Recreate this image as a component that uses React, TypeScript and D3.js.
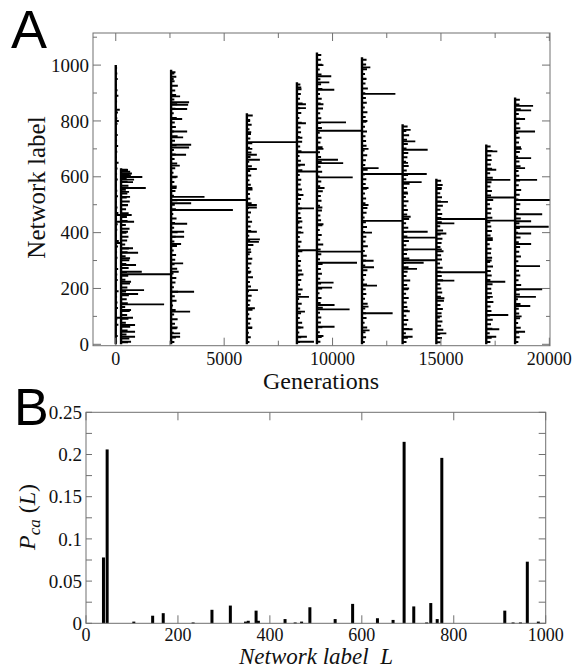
import React from "react";
import * as d3 from "d3";

// ---------- Panel A data ----------
const blockGen = [0, 245, 2553, 6048, 8357, 9280, 11358, 13232, 14788, 17090, 18420];
const blockTop = [1000, 631, 983, 828, 939, 1045, 1028, 788, 593, 716, 884];

// [network label, lifetime in generations]
const major0 = [[840,185],[800,140],[463,245],[439,245],[363,245],[95,245]];
const major1 = [[625,300],[618,420],[612,500],[606,450],[599,980],[590,600],[581,550],[560,1140],[546,370],[528,415],[499,320],[463,490],[439,600],[403,320],[344,550],[328,785],[308,415],[284,690],[260,955],[251,2308],[224,460],[194,1060],[180,785],[143,1985],[123,460],[95,550],[69,645],[45,645],[27,645],[9,460]];
const major2 = [[970,150],[950,120],[888,415],[867,830],[858,785],[843,740],[807,510],[762,740],[741,555],[715,925],[705,830],[679,690],[640,400],[600,300],[560,250],[528,1540],[517,3495],[505,925],[481,2850],[432,740],[403,600],[385,600],[359,460],[290,555],[260,350],[188,1060],[117,877],[60,300],[39,415],[27,415]];
const major3 = [[800,150],[760,200],[724,2309],[700,250],[679,460],[661,600],[628,460],[560,250],[499,460],[490,460],[403,460],[376,600],[367,555],[330,200],[260,200],[194,510],[129,370],[60,250]];
const major4 = [[920,200],[860,415],[846,415],[792,415],[740,250],[688,923],[643,370],[619,923],[535,300],[487,785],[440,250],[400,300],[337,923],[250,300],[170,555],[117,370],[60,300],[27,460],[9,785]];
const major5 = [[1000,300],[960,660],[938,570],[912,800],[860,300],[795,1340],[765,2078],[700,300],[661,970],[649,1210],[598,1650],[560,350],[490,250],[430,300],[332,2078],[292,1847],[221,766],[203,700],[141,812],[125,1505],[63,812],[30,300]];
const major6 = [[992,385],[950,200],[897,1540],[800,250],[700,300],[631,766],[610,2987],[560,300],[499,300],[442,1874],[400,460],[299,535],[276,555],[210,692],[135,300],[111,1413],[50,350]];
const major7 = [[768,370],[727,585],[697,1155],[650,250],[581,877],[540,250],[457,370],[403,1155],[382,1556],[340,1556],[301,1556],[292,970],[270,665],[200,300],[120,250],[54,460],[27,460]];
const major8 = [[560,250],[510,535],[449,2302],[433,830],[397,460],[340,250],[258,2302],[228,830],[165,370],[100,250],[39,460]];
const major9 = [[691,510],[625,460],[589,1110],[526,1330],[443,1330],[380,300],[300,250],[224,877],[170,300],[105,1015],[54,600],[27,460]];
const major10 = [[854,830],[838,740],[807,460],[762,920],[700,300],[667,740],[631,460],[589,1015],[517,2000],[466,1250],[441,740],[421,1550],[397,740],[359,740],[280,1150],[197,1250],[170,960],[137,700],[100,300],[45,460]];

// short lifetimes, evenly along each block (generations)
const minor0 = [60,90,50,120,70,40,100,80,60,130,50,90,70,110,40,80,60,100,140,50,70,90,60,120,80,50,100,70,40,90,60,80,130,50,70,110,60,90,40,80,70,100,50,60,120,80,40,90,70,60];
const minor1 = [320,380,250,300,420,220,340,280,400,190,310,260,360,230,290,410,200,330,270,350,240,380,210,300,360,190,280,340,250,390,220,300,270,350,230,310,400,260,290,220,340,300,260,380,320];
const minor2 = [150,220,120,260,180,300,140,210,90,250,170,320,130,200,240,110,280,160,190,230,120,270,150,210,300,140,180,250,100,220,170,290,130,200,260,150,240,110,190,280,160,210,130,250,180,300,140,220,170,260,120,200,280,150,230,190,310,160,240,200];
const minor3 = [120,180,90,240,150,200,110,260,130,170,220,100,190,140,280,160,120,210,250,130,180,300,150,110,200,170,240,130,190,100,220,160,140,260,180,120,200,150,230,110,170,210,140,250,160,190,120,220,150,270];
const minor4 = [140,200,110,170,240,130,190,150,220,100,180,260,140,200,120,230,160,190,110,250,150,210,130,180,240,120,200,160,220,140,190,110,230,170,200,130,250,160,180,120,210,150,240,130,190,170,220,110,200,150,260,140,180,210,160];
const minor5 = [160,220,130,250,180,200,140,270,170,210,120,240,190,150,230,180,260,140,200,170,290,150,220,130,250,190,160,230,140,210,180,270,150,200,120,240,170,220,190,140,260,160,210,130,230,180,200,150,280,170,220,140,250,190,160,210,130,240,180,200];
const minor6 = [130,190,160,240,120,210,180,150,260,140,200,170,230,110,190,250,150,180,220,130,270,160,200,140,230,180,120,210,250,160,190,140,220,170,200,130,260,150,180,240,120,210,190,160,230,140,200,170,250,130,220,180,150,270,160,200,140,230,190,210];
const minor7 = [180,240,150,300,200,260,170,330,220,190,280,160,250,210,350,180,230,270,150,310,200,240,170,290,220,190,260,160,300,210,240,180,270,150,230,200,320,170,250,190,280,160,220,260,180,240,200,300,170,230];
const minor8 = [200,260,180,320,220,280,160,240,300,190,350,210,270,230,180,310,250,200,290,170,260,220,330,190,240,280,200,310,180,250,230,270,190,300,210,260,180,240,290,220];
const minor9 = [190,250,160,280,220,300,180,240,200,330,170,260,230,290,190,250,210,310,180,270,220,240,160,300,200,260,230,190,280,210,250,170,320,220,260,190,240,300,180,270,210,250,230,290,200];
const minor10 = [150,210,180,260,140,230,190,170,250,130,220,200,280,160,240,180,210,150,270,190,230,170,250,140,220,200,260,160,190,240,150,210,280,170,230,190,160,250,200,140,220,270,180,210,150,240,190,230,170,260,200,220];

const majors = [major0, major1, major2, major3, major4, major5, major6, major7, major8, major9, major10];
const minors = [minor0, minor1, minor2, minor3, minor4, minor5, minor6, minor7, minor8, minor9, minor10];

const aXMajor = [0, 5000, 10000, 15000, 20000];
const aXMinor = [2500, 7500, 12500, 17500];
const aYMajor = [0, 200, 400, 600, 800, 1000];
const aYMinor = [100, 300, 500, 700, 900, 1100];

// ---------- Panel B data ----------
const bLabels = [38,46,104,145,168,233,274,314,347,353,370,375,433,455,469,487,542,580,634,668,692,713,741,750,764,774,911,929,945,960,984];
const bValues = [0.078,0.206,0.002,0.009,0.012,0.001,0.016,0.021,0.002,0.003,0.015,0.003,0.005,0.001,0.002,0.019,0.005,0.023,0.006,0.004,0.215,0.02,0.001,0.024,0.005,0.196,0.015,0.001,0.001,0.073,0.002];
const bXTicks = [0, 200, 400, 600, 800, 1000];
const bYTicks = [0, 0.025, 0.05, 0.075, 0.1, 0.125, 0.15, 0.175, 0.2, 0.225, 0.25];
const bYLabels = ["0", "0.05", "0.1", "0.15", "0.2", "0.25"];

const SERIF = "'Liberation Serif', 'Times New Roman', serif";
const SANS = "'Liberation Sans', Arial, sans-serif";
const FRAME = "#707070";

export default function App() {
  const xA = d3.scaleLinear().domain([-1050, 20030]).range([93, 550]);
  const yA = d3.scaleLinear().domain([-5, 1115]).range([345.7, 33]);
  const xB = d3.scaleLinear().domain([0, 1000]).range([86, 545.7]);
  const yB = d3.scaleLinear().domain([0, 0.25]).range([623.3, 412.3]);

  const [ax0, ax1] = xA.range();
  const [ay0, ay1] = yA.range();
  const [bx0, bx1] = xB.range();
  const [by0, by1] = yB.range();

  return (
    <svg width={574} height={669} style={{ position: "absolute", left: 0, top: 0, background: "#fff" }}>
      <defs>
        <clipPath id="clipA">
          <rect x={ax0} y={ay1} width={ax1 - ax0} height={ay0 - ay1} />
        </clipPath>
      </defs>

      {/* ---------- Panel A ---------- */}
      <text x={11} y={48} fontFamily={SANS} fontSize={54}>A</text>
      <g clipPath="url(#clipA)">
        {blockGen.map((g, i) => {
          const top = blockTop[i];
          const mn = minors[i];
          return (
            <g key={"blk" + i}>
              {mn.map((len, j) => {
                const lab = (top * (j + 0.5)) / mn.length;
                return (
                  <line key={"mn" + j} x1={xA(g)} x2={xA(g + len)} y1={yA(lab)} y2={yA(lab)} stroke="#000" strokeWidth={2} />
                );
              })}
              {majors[i].map(([lab, len], j) => (
                <line key={"mj" + j} x1={xA(g)} x2={xA(g + len)} y1={yA(lab)} y2={yA(lab)} stroke="#000" strokeWidth={1.9} />
              ))}
              <line x1={xA(g)} x2={xA(g)} y1={yA(0)} y2={yA(top)} stroke="#000" strokeWidth={2.4} />
            </g>
          );
        })}
      </g>
      <rect x={ax0} y={ay1} width={ax1 - ax0} height={ay0 - ay1} fill="none" stroke={FRAME} strokeWidth={1} />
      {aXMajor.map((v) => (
        <g key={"axM" + v}>
          <line x1={xA(v)} x2={xA(v)} y1={ay0} y2={ay0 - 8} stroke={FRAME} />
          <line x1={xA(v)} x2={xA(v)} y1={ay1} y2={ay1 + 8} stroke={FRAME} />
          <text x={xA(v)} y={365} textAnchor="middle" fontFamily={SERIF} fontSize={18} fill="#111">{v}</text>
        </g>
      ))}
      {aXMinor.map((v) => (
        <g key={"axm" + v}>
          <line x1={xA(v)} x2={xA(v)} y1={ay0} y2={ay0 - 5} stroke={FRAME} />
          <line x1={xA(v)} x2={xA(v)} y1={ay1} y2={ay1 + 5} stroke={FRAME} />
        </g>
      ))}
      {aYMajor.map((v) => (
        <g key={"ayM" + v}>
          <line x1={ax0} x2={ax0 + 8} y1={yA(v)} y2={yA(v)} stroke={FRAME} />
          <line x1={ax1} x2={ax1 - 8} y1={yA(v)} y2={yA(v)} stroke={FRAME} />
          <text x={89} y={yA(v)} dy="0.35em" textAnchor="end" fontFamily={SERIF} fontSize={19} fill="#111">{v}</text>
        </g>
      ))}
      {aYMinor.map((v) => (
        <g key={"aym" + v}>
          <line x1={ax0} x2={ax0 + 4} y1={yA(v)} y2={yA(v)} stroke={FRAME} />
          <line x1={ax1} x2={ax1 - 4} y1={yA(v)} y2={yA(v)} stroke={FRAME} />
        </g>
      ))}
      <text x={321} y={389} textAnchor="middle" fontFamily={SERIF} fontSize={24} fill="#111">Generations</text>
      <text transform="translate(45,187.5) rotate(-90)" textAnchor="middle" fontFamily={SERIF} fontSize={25} fill="#111">Network label</text>

      {/* ---------- Panel B ---------- */}
      <text x={14} y={425} fontFamily={SANS} fontSize={52}>B</text>
      {bLabels.map((L, i) => (
        <rect key={"bb" + i} x={xB(L) - 1.5} width={3} y={yB(bValues[i])} height={Math.max(yB(0) - yB(bValues[i]), 1.2)} fill="#000" />
      ))}
      <rect x={bx0} y={by1} width={bx1 - bx0} height={by0 - by1} fill="none" stroke={FRAME} strokeWidth={1} />
      {bXTicks.map((v) => (
        <g key={"bx" + v}>
          <line x1={xB(v)} x2={xB(v)} y1={by0} y2={by0 - 8} stroke={FRAME} />
          <line x1={xB(v)} x2={xB(v)} y1={by1} y2={by1 + 8} stroke={FRAME} />
          <text x={xB(v)} y={641} textAnchor="middle" fontFamily={SERIF} fontSize={18} fill="#111">{v}</text>
        </g>
      ))}
      {bYTicks.map((v, i) => (
        <g key={"by" + i}>
          <line x1={bx0} x2={bx0 + 6} y1={yB(v)} y2={yB(v)} stroke={FRAME} />
          <line x1={bx1} x2={bx1 - 7} y1={yB(v)} y2={yB(v)} stroke={FRAME} />
        </g>
      ))}
      {bYLabels.map((s) => (
        <text key={"byl" + s} x={82} y={yB(+s)} dy="0.35em" textAnchor="end" fontFamily={SERIF} fontSize={19} fill="#111">{s}</text>
      ))}
      <text x={316} y={664} textAnchor="middle" fontFamily={SERIF} fontSize={23} fontStyle="italic" fill="#111">{"Network label\u00a0\u00a0L"}</text>
      <text transform="translate(35,517) rotate(-90)" textAnchor="middle" fontFamily={SERIF} fontSize={24} fill="#111">
        <tspan fontStyle="italic">P</tspan>
        <tspan fontStyle="italic" fontSize={17} dy={5}>ca</tspan>
        <tspan dy={-5}>{"\u00a0("}</tspan>
        <tspan fontStyle="italic">L</tspan>
        <tspan>)</tspan>
      </text>
    </svg>
  );
}
